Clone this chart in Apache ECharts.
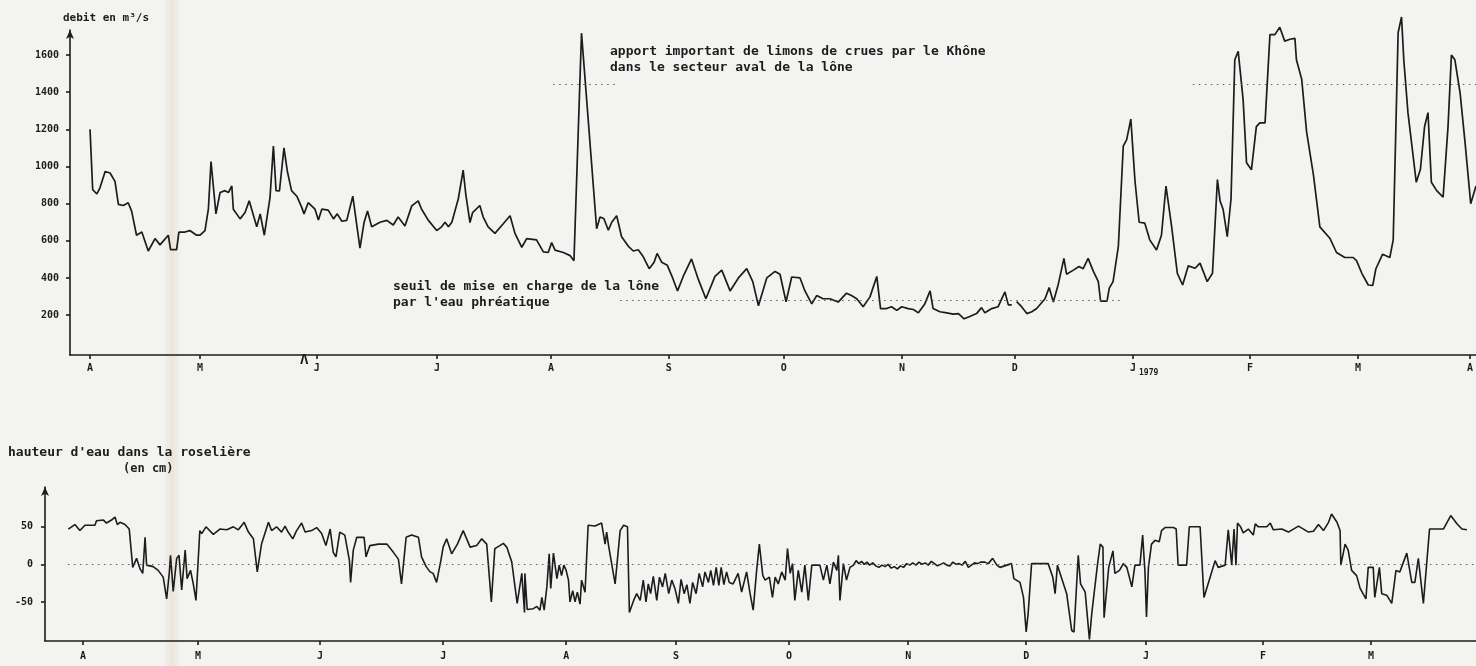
<!DOCTYPE html>
<html><head><meta charset="utf-8">
<script src="https://cdn.jsdelivr.net/npm/echarts@6/dist/echarts.min.js"></script>
<style>html,body{margin:0;padding:0;background:#f3f3f1}#c{width:1476px;height:666px}</style>
</head><body><div id="c"></div><script>
// day index from 1 April 1978, value
const flowPoints = [
[0,1200],[0.7,875],[1.8,852],[2.6,884],[4.0,973],[5.3,965],[6.6,920],[7.5,796],[8.8,790],[10.1,805],[11.0,760],[12.3,630],[13.7,647],[15.4,545],[17.2,612],[18.5,578],[20.7,630],[21.3,552],[22.9,552],[23.5,647],[25.1,647],[26.4,655],[28.2,630],[29.1,630],[30.4,655],[31.3,770],[32.0,1027],[33.3,745],[34.4,860],[35.7,870],[36.6,860],[37.5,895],[37.9,770],[39.7,718],[41.0,752],[42.1,815],[44.1,675],[45.0,745],[46.1,630],[47.6,832],[48.5,1110],[49.2,870],[50.1,868],[51.3,1100],[52.2,973],[53.3,870],[54.7,840],[56.0,780],[56.6,745],[57.7,805],[59.5,770],[60.4,712],[61.3,770],[63.0,765],[64.4,718],[65.4,745],[66.6,705],[67.9,710],[69.5,840],[71.4,560],[72.5,700],[73.4,760],[74.5,675],[76.7,700],[78.5,710],[80.2,685],[81.5,728],[83.3,680],[85.1,788],[86.8,815],[87.7,770],[89.5,710],[91.7,655],[93.0,675],[93.9,700],[94.8,675],[95.7,700],[97.4,825],[98.7,980],[99.4,848],[100.5,698],[101.2,752],[103.1,790],[104.0,728],[105.3,675],[107.1,640],[109.3,692],[111.1,735],[112.4,640],[114.2,565],[115.5,612],[118.1,605],[119.9,540],[121.2,537],[122.1,590],[123.0,550],[125.2,537],[127.0,520],[128.0,493],[130.0,1718],[134.0,665],[134.9,728],[135.9,720],[137.1,657],[138.0,700],[139.3,735],[140.6,622],[142.4,570],[143.7,545],[145.0,552],[146.3,515],[147.9,450],[149.2,485],[150.0,532],[151.2,485],[152.7,468],[154.1,400],[155.4,330],[156.9,408],[159.1,502],[160.9,392],[162.9,288],[165.3,408],[167.1,442],[169.3,330],[171.5,400],[173.7,450],[175.3,380],[176.8,250],[179.0,400],[181.2,435],[182.5,420],[184.1,272],[185.6,405],[187.8,400],[189.1,330],[190.9,260],[192.2,305],[193.9,288],[195.7,288],[197.9,270],[200.1,318],[201.4,305],[202.8,288],[204.5,245],[206.3,298],[208.1,408],[209.1,235],[210.7,235],[212.0,245],[213.4,225],[214.7,245],[216.4,235],[217.8,230],[219.1,212],[220.8,260],[222.2,330],[223.0,235],[224.8,218],[226.6,212],[228.3,205],[229.7,208],[231.2,180],[232.7,192],[234.5,208],[235.8,240],[236.7,212],[238.5,235],[240.2,245],[242.0,325],[242.9,255],[243.8,255],[244.4,null],[245.1,272],[246.4,245],[247.8,208],[249.1,218],[250.4,235],[252.6,288],[253.7,348],[254.8,270],[256.1,365],[257.6,505],[258.3,420],[260.1,442],[261.6,462],[262.7,450],[264.0,505],[265.4,435],[266.7,380],[267.3,275],[269.0,275],[269.6,345],[270.6,380],[272.0,570],[273.3,1110],[274.2,1145],[275.3,1255],[276.4,922],[277.5,700],[279.0,695],[280.3,605],[282.1,550],[283.4,630],[284.6,895],[286.1,675],[287.6,425],[289.0,362],[290.5,465],[292.3,452],[293.6,480],[295.5,380],[296.9,425],[298.2,930],[298.9,815],[299.7,770],[300.8,622],[301.8,825],[302.8,1575],[303.7,1620],[305.0,1360],[305.9,1020],[307.2,982],[308.5,1215],[309.4,1235],[310.8,1235],[312.1,1710],[313.4,1710],[314.7,1750],[316.0,1675],[317.4,1685],[318.7,1690],[319.1,1575],[320.5,1470],[321.8,1185],[323.6,955],[325.3,675],[328.0,612],[329.7,537],[331.9,510],[334.1,510],[335.0,493],[336.4,425],[338.1,362],[339.3,360],[340.1,448],[341.9,528],[343.8,510],[344.7,605],[346.0,1720],[346.9,1805],[347.5,1575],[348.6,1290],[350.8,915],[351.9,985],[353.0,1215],[353.9,1290],[354.8,915],[356.2,870],[357.9,835],[359.2,1215],[360.1,1600],[361.0,1575],[362.4,1395],[363.7,1130],[365.2,800],[366.6,895]
];
const levelPoints = [
[-3.8,47],[-2.1,53],[-0.8,45],[0.5,52],[3.1,52],[3.5,58],[5.3,59],[6.1,55],[7.4,59],[8.3,63],[8.9,53],[9.6,56],[10.9,53],[12.0,47],[12.9,-4],[13.9,8],[14.8,-6],[15.5,-12],[16.1,36],[16.5,-1],[18.2,-3],[19.5,-8],[20.8,-17],[21.7,-46],[22.4,-10],[22.7,12],[23.4,-36],[24.3,8],[24.9,12],[25.6,-34],[26.5,19],[27.0,-19],[27.9,-8],[28.6,-26],[29.3,-48],[30.3,45],[30.8,41],[31.9,50],[33.8,40],[35.5,47],[37.3,46],[39.0,50],[40.3,46],[41.8,56],[42.9,43],[44.2,34],[45.2,-10],[46.3,27],[48.1,56],[48.9,45],[50.2,50],[51.5,43],[52.4,51],[53.2,43],[54.4,34],[55.4,45],[56.7,55],[57.6,43],[59.3,45],[60.6,49],[61.9,41],[63.0,25],[64.1,47],[64.9,16],[65.6,10],[66.6,43],[67.9,39],[69.1,5],[69.4,-24],[70.1,19],[71.0,36],[72.9,36],[73.4,10],[74.4,25],[76.6,27],[78.8,27],[80.5,16],[81.8,7],[82.6,-26],[83.8,36],[85.2,39],[87.0,36],[87.8,10],[89.0,-3],[90.0,-10],[90.8,-12],[91.7,-24],[92.8,5],[93.4,23],[94.3,34],[95.6,14],[97.1,27],[98.6,45],[100.4,23],[102.1,25],[103.4,34],[104.7,27],[105.9,-50],[106.8,21],[108.1,25],[109.0,28],[109.9,23],[111.2,3],[112.6,-52],[113.8,-12],[114.5,-64],[114.6,-12],[115.2,-60],[116.8,-59],[117.7,-56],[118.5,-61],[119.0,-44],[119.6,-61],[120.3,-30],[120.9,14],[121.3,-32],[122.0,15],[122.9,-19],[123.5,-1],[124.1,-15],[124.7,-1],[125.3,-8],[125.9,-21],[126.3,-50],[127.0,-35],[127.6,-50],[128.2,-37],[128.9,-53],[129.3,-21],[130.2,-37],[131.0,52],[132.8,51],[134.5,55],[135.4,27],[135.8,43],[136.3,25],[137.4,-8],[138.0,-26],[139.3,45],[140.2,52],[141.2,50],[141.7,-64],[142.8,-48],[143.6,-39],[144.5,-48],[145.3,-21],[146.0,-50],[146.6,-26],[147.2,-39],[147.9,-16],[148.8,-48],[149.5,-17],[150.3,-30],[151.0,-12],[151.9,-39],[152.7,-21],[153.5,-32],[154.4,-52],[155.1,-20],[155.9,-39],[156.6,-27],[157.4,-52],[158.1,-24],[159.0,-39],[159.8,-12],[160.7,-30],[161.3,-10],[162.2,-24],[162.8,-8],[163.5,-28],[164.2,-4],[164.9,-28],[165.5,-4],[166.2,-27],[166.9,-10],[167.6,-24],[168.6,-26],[169.9,-12],[170.8,-37],[172.1,-10],[173.0,-39],[173.8,-61],[174.7,-8],[175.4,27],[176.3,-15],[176.9,-21],[178.0,-17],[178.8,-44],[179.5,-17],[180.3,-26],[181.2,-10],[182.1,-21],[182.7,21],[183.4,-12],[184.0,1],[184.6,-48],[185.5,-8],[186.4,-37],[187.2,-1],[188.1,-48],[189.0,-1],[191.1,-1],[192.0,-21],[192.9,-1],[193.7,-26],[194.6,3],[195.5,-8],[195.9,12],[196.3,-48],[197.2,1],[198.0,-21],[198.9,-4],[199.8,-1],[200.5,5],[201.2,1],[201.9,4],[202.6,0],[203.3,3],[204.0,-1],[204.8,2],[205.6,-2],[206.4,-4],[207.2,-1],[208.0,-3],[208.8,0],[209.6,-5],[210.4,-3],[211.2,-6],[212.0,-2],[212.8,-4],[213.6,1],[214.4,-1],[215.2,2],[216.0,-1],[216.8,3],[217.6,0],[218.4,2],[219.2,-1],[220.0,4],[220.8,1],[221.6,-2],[222.4,0],[223.2,2],[224.0,-1],[224.8,-2],[225.6,3],[226.4,0],[227.2,1],[228.0,-1],[228.8,4],[229.6,-4],[230.4,-1],[231.2,2],[232.0,1],[232.8,3],[233.9,3],[234.8,1],[235.9,8],[237.0,-1],[237.8,-4],[239.0,-2],[240.8,1],[241.4,-19],[243.0,-24],[243.9,-44],[244.6,-90],[245.1,-66],[246.0,1],[250.3,1],[251.5,-17],[252.1,-39],[252.7,-1],[253.4,-12],[255.1,-39],[256.4,-88],[257.0,-90],[258.1,12],[258.7,-26],[259.9,-37],[261.0,-100],[261.6,-66],[263.0,-4],[263.8,27],[264.5,23],[264.8,-71],[266.0,-4],[267.1,18],[267.6,-12],[268.8,-8],[269.8,1],[270.7,-4],[272.0,-30],[272.8,-1],[274.1,-1],[274.8,39],[275.4,-10],[275.8,-70],[276.3,-4],[277.1,27],[278.0,32],[279.1,30],[279.7,45],[280.6,49],[282.8,49],[283.5,47],[284.0,-1],[286.2,-1],[286.9,50],[289.7,50],[290.7,-44],[292.3,-17],[293.6,5],[294.4,-4],[296.2,-1],[297.0,46],[297.9,-1],[298.5,47],[299.0,-1],[299.4,55],[300.2,50],[300.9,42],[302.2,47],[303.5,39],[304.0,54],[304.8,50],[307.0,50],[307.9,55],[308.7,46],[310.9,47],[312.6,43],[315.2,51],[317.8,43],[319.1,44],[320.4,53],[321.7,45],[323.0,56],[323.8,67],[325.2,56],[326.0,45],[326.2,-1],[327.3,27],[328.1,19],[329.0,-8],[330.3,-15],[331.2,-32],[332.7,-46],[333.3,-4],[334.6,-4],[335.0,-44],[336.2,-4],[336.8,-39],[338.1,-41],[339.4,-52],[340.5,-8],[341.5,-10],[343.3,15],[344.6,-24],[345.4,-24],[346.3,8],[347.6,-52],[349.2,47],[352.8,47],[354.7,65],[356.3,54],[357.6,47],[358.9,46]
];
const monthLabels = ['A','M','J','J','A','S','O','N','D','J','F','M','A'];
const topMonthDays = [0,29.1,60.0,91.8,121.9,153.1,183.5,214.8,244.6,275.9,306.8,335.4,365];
const bottomMonthDays = [0,29.8,61.5,93.4,125.3,153.8,183.1,214.0,244.6,275.7,306.0,334.0];
const flowTicks = [200,400,600,800,1000,1200,1400,1600];
const levelTicks = [-50,0,50];
const seuilLevel = 280;      // seuil de mise en charge
const crueLevel = 1445;      // apport de limons
const zeroLevel = 0;

const ink = '#1c1c1c';
const mono = "'DejaVu Sans Mono', 'Liberation Mono', monospace";
const chart = echarts.init(document.getElementById('c'), null, {renderer: 'canvas'});

function xAxisCfg(grid, min, max, ticks, margin) {
  return {
    type: 'value', gridIndex: grid, min: min, max: max,
    axisLine: {onZero: false, lineStyle: {color: ink, width: 1.6}},
    splitLine: {show: false},
    axisTick: {customValues: ticks, length: 4, lineStyle: {color: ink, width: 1.6}},
    axisLabel: {customValues: ticks, margin: margin, color: ink, fontFamily: mono, fontWeight: 'bold', fontSize: 10,
      formatter: v => monthLabels[ticks.indexOf(v)] || ''}
  };
}
function yAxisCfg(grid, min, max, ticks, margin) {
  return {
    type: 'value', gridIndex: grid, min: min, max: max,
    axisLine: {show: true, onZero: false, symbol: ['none', 'arrow'], symbolSize: [6, 9], lineStyle: {color: ink, width: 1.6}},
    splitLine: {show: false},
    axisTick: {show: true, customValues: ticks, length: 4, lineStyle: {color: ink, width: 1.6}},
    axisLabel: {customValues: ticks, margin: margin, color: ink, fontFamily: mono, fontWeight: 'bold', fontSize: 10,
      formatter: v => String(v)}
  };
}
const dotted = {type: [1.5, 4.5], color: '#5e5e5e', width: 1.2};
function seg(x1, x2, y) { return [{coord: [x1, y]}, {coord: [x2, y]}]; }

function txt(x, y, text, size, weight) {
  return {type: 'text', x: x, y: y, z: 10, style: {text: text, fill: ink, font: (weight || 'bold') + ' ' + size + 'px ' + mono, verticalAlign: 'middle'}};
}

chart.setOption({
  animation: false,
  backgroundColor: '#f3f3f1',
  grid: [
    {left: 70, right: 0, top: 30, bottom: 311},
    {left: 45, right: 0, top: 487, bottom: 25}
  ],
  xAxis: [
    xAxisCfg(0, -5.3, 366.6, topMonthDays, 8),
    xAxisCfg(1, -9.85, 361.25, bottomMonthDays, 10)
  ],
  yAxis: [
    yAxisCfg(0, -15, 1735, flowTicks, 11),
    yAxisCfg(1, -102, 103, levelTicks, 12)
  ],
  series: [
    {
      type: 'line', xAxisIndex: 0, yAxisIndex: 0, data: flowPoints,
      showSymbol: false, clip: false, connectNulls: false,
      lineStyle: {color: ink, width: 1.7}, z: 3,
      markLine: {silent: true, symbol: ['none', 'none'], label: {show: false}, lineStyle: dotted,
        data: [seg(140.2, 272.4, seuilLevel), seg(122.5, 139.4, crueLevel), seg(291.7, 366.6, crueLevel)]}
    },
    {
      type: 'line', xAxisIndex: 1, yAxisIndex: 1, data: levelPoints,
      showSymbol: false, clip: false,
      lineStyle: {color: ink, width: 1.6}, z: 3,
      markLine: {silent: true, symbol: ['none', 'none'], label: {show: false}, lineStyle: dotted,
        data: [seg(-3.9, 361.25, zeroLevel)]}
    }
  ],
  graphic: [
    {type: 'rect', z: -1, shape: {x: 163, y: 0, width: 18, height: 666},
      style: {fill: {type: 'linear', x: 0, y: 0, x2: 1, y2: 0, colorStops: [
        {offset: 0, color: 'rgba(215,195,170,0)'}, {offset: 0.5, color: 'rgba(215,195,170,0.3)'}, {offset: 1, color: 'rgba(215,195,170,0)'}]}}},
    txt(63, 18, 'debit en m³/s', 11),
    txt(610, 52, 'apport important de limons de crues par le Khône', 13),
    txt(610, 68, 'dans le secteur aval de la lône', 13),
    txt(393, 287, 'seuil de mise en charge de la lône', 13),
    txt(393, 303, "par l'eau phréatique", 13),
    txt(1139, 373, '1979', 8),
    txt(300, 360, 'Λ', 14),
    txt(8, 453, "hauteur d'eau dans la roselière", 13),
    txt(123, 469, '(en cm)', 12)
  ]
});
</script></body></html>
